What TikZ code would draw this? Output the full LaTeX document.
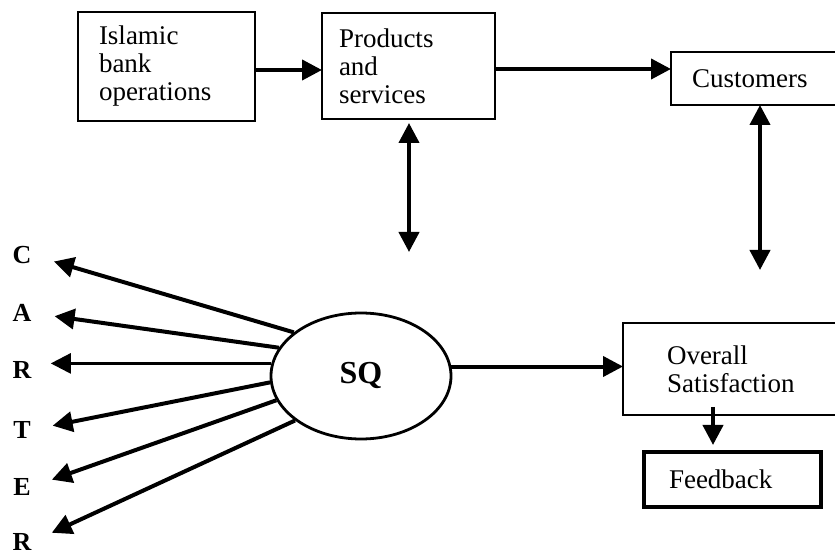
\documentclass[tikz,border=0pt]{standalone}
\usepackage{fontspec}
\setmainfont{Liberation Serif}
\usetikzlibrary{arrows.meta,positioning,shapes.geometric}
\tikzset{
    %Define standard arrow tip
    >={Triangle[length=10pt,width=10pt]},
    %Define style for boxes
    kasse/.style={
           rectangle,
           draw=black, line width=1.4pt,
           inner xsep=0pt, inner ysep=0pt, outer sep=0pt,
           align=left,
           anchor=north west,
           font=\fontsize{13.5}{14}\selectfont},
    % Define arrow style
    pil/.style={
           ->,
           line width=2pt},
    % Define style for the letters
    bokstav/.style={
           font=\bfseries\fontsize{13}{13}\selectfont,
           inner sep=0pt}
}
\begin{document}
\begin{tikzpicture}[x=0.5pt,y=-0.5pt]
\useasboundingbox (0,0) rectangle (835,555);
\clip (0,0) rectangle (835,555);
%Nodes
\node[kasse, minimum width=88.5pt, minimum height=54.5pt, text width=67.5pt] (ops) at (78,12) {Islamic\\bank\\operations};
\node[kasse, minimum width=86.5pt, minimum height=53pt, text width=69.5pt] (prod) at (322,13) {Products\\and\\services};
\node[kasse, minimum width=89.5pt, minimum height=26.5pt, text width=68.5pt] (cust) at (671,52) {Customers};
\node[ellipse, draw, line width=1.4pt, minimum width=90pt, minimum height=63pt, inner sep=0pt,
      font=\bfseries\fontsize{16}{16}\selectfont] (sq) at (361,376) {SQ};
\node[kasse, minimum width=113.5pt, minimum height=46pt, text width=69.5pt] (sat) at (623,323) {Overall\\Satisfaction};
\node[kasse, line width=2.2pt, minimum width=88.5pt, minimum height=27.5pt, text width=63.5pt] (fb) at (644,452) {Feedback};
\node[bokstav] (dimC) at (22,255) {C};
\node[bokstav] (dimA) at (22,313) {A};
\node[bokstav] (dimR) at (22,370) {R};
\node[bokstav] (dimT) at (22,430) {T};
\node[bokstav] (dimE) at (22,487) {E};
\node[bokstav] (dimRR) at (22,542) {R};
\coordinate (prodend) at (409,252);
\coordinate (custend) at (760,270);
\coordinate (fbtop) at ([xshift=-9.75pt]fb.north);
\coordinate (satbot) at ([yshift=4pt]sat.south);
\coordinate (opsout) at ([yshift=-1.75pt]ops.east);
\coordinate (prodout) at ([yshift=-1.5pt]prod.east);
%Arrows
\draw[pil] (opsout) -- (opsout -| prod.west);
\draw[pil] (prodout) -- (prodout -| cust.west);
\draw[pil, <->, shorten >=2pt] (prodend) -- (prodend |- prod.south);
\draw[pil, <->] (custend) -- (custend |- cust.south);
\draw[pil] (sq.6) -- (sq.6 -| sat.west);
\draw[pil, shorten >=3.5pt] (fbtop |- satbot) -- (fbtop);
\draw[pil, shorten >=11.5pt] (sq.147) -- (dimC.east);
\draw[pil, shorten >=11.5pt] (sq.161) -- (dimA.east);
\draw[pil, line width=1.3pt, shorten >=9.5pt] (sq.172) -- (sq.172 -| dimR.east);
\draw[pil, shorten >=11pt] (sq.184) -- (dimT.east);
\draw[pil, shorten >=11pt] (sq.196) -- (dimE.east);
\draw[pil, shorten >=11pt] (sq.214) -- (dimRR.east);
\end{tikzpicture}
\end{document}
